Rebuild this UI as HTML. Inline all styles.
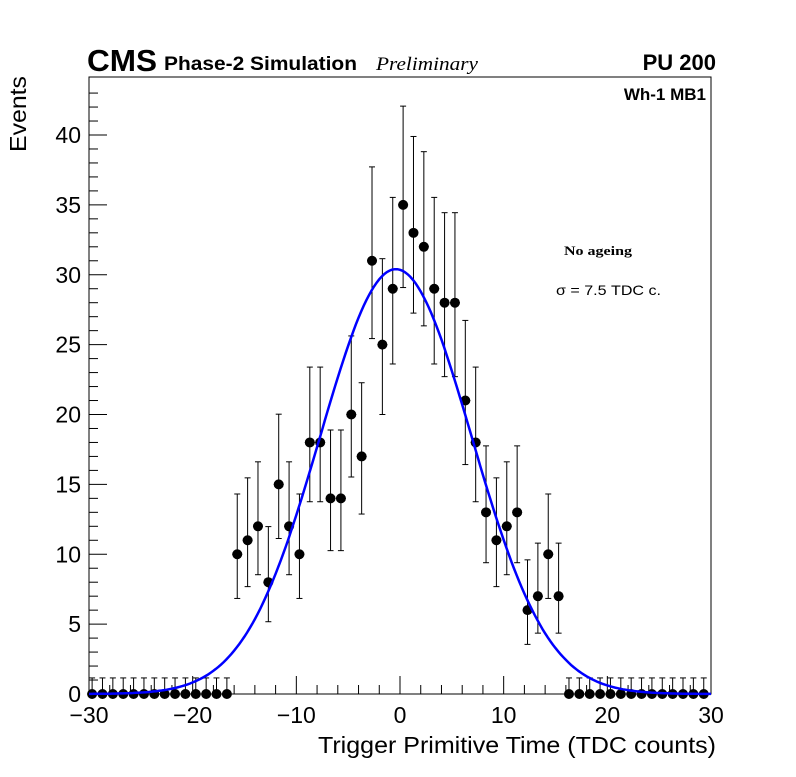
<!DOCTYPE html>
<html><head><meta charset="utf-8"><style>
body{margin:0;background:#fff;}
svg text{font-family:"Liberation Sans",sans-serif;}
</style></head><body>
<svg id="c" width="796" height="772" xmlns="http://www.w3.org/2000/svg">
<rect width="796" height="772" fill="#fff"/>
<rect x="89" y="77" width="622" height="617" fill="none" stroke="#000" stroke-width="1"/>
<text x="87" y="71" font-size="31" font-weight="bold" textLength="70" lengthAdjust="spacingAndGlyphs">CMS</text>
<text x="164" y="70" font-size="19" font-weight="bold" textLength="193" lengthAdjust="spacingAndGlyphs">Phase-2 Simulation</text>
<text x="376" y="70" font-size="19" font-style="italic" textLength="102" lengthAdjust="spacingAndGlyphs" style="font-family:'Liberation Serif',serif">Preliminary</text>
<text x="716" y="70" font-size="22" font-weight="bold" text-anchor="end">PU 200</text>
<text x="706" y="100" font-size="17" font-weight="bold" text-anchor="end">Wh-1 MB1</text>
<text x="564" y="255" font-size="13" font-weight="bold" textLength="68" lengthAdjust="spacingAndGlyphs" style="font-family:'Liberation Serif',serif">No ageing</text>
<text x="556" y="295" font-size="14" textLength="105" lengthAdjust="spacingAndGlyphs">σ = 7.5 TDC c.</text>
<text x="318" y="753" font-size="23" textLength="398" lengthAdjust="spacingAndGlyphs">Trigger Primitive Time (TDC counts)</text>
<text transform="translate(26,152) rotate(-90)" font-size="23" textLength="76" lengthAdjust="spacingAndGlyphs">Events</text>
<g id="axes"></g><g id="marks"></g>
</svg>
<script>
const binCenters=[];for(let i=0;i<60;i++)binCenters.push(-29.7+i);
const counts=[0,0,0,0,0,0,0,0,0,0,0,0,0,0,10,11,12,8,15,12,10,18,18,14,14,20,17,31,25,29,35,33,32,29,28,28,21,18,13,11,12,13,6,7,10,7,0,0,0,0,0,0,0,0,0,0,0,0,0,0];
const xTicks=[-30,-20,-10,0,10,20,30];
const yTicks=[0,5,10,15,20,25,30,35,40];
const fitMean=-0.4, fitSigma=7.3, fitAmp=30.4;
const X=v=>89+(v+30)*622/60, Y=v=>694-v*13.975;
const NS='http://www.w3.org/2000/svg';
const ax=document.getElementById('axes'), mk=document.getElementById('marks');
function el(t,a,p){const e=document.createElementNS(NS,t);for(const k in a)e.setAttribute(k,a[k]);p.appendChild(e);return e;}
for(let v=-30;v<=30;v+=2){const maj=v%10===0;const e=el('line',{x1:X(v),x2:X(v),y1:694,y2:694-(maj?18:9),stroke:'#000'},ax);

}
xTicks.forEach(v=>{const t=el('text',{x:X(v),y:723,'font-size':23,'text-anchor':'middle'},ax);t.textContent=(v<0?'\u2212':'')+Math.abs(v);

});
for(let v=0;v<=43;v++){const maj=v%5===0;const e=el('line',{x1:89,x2:89+(maj?18:9),y1:Y(v),y2:Y(v),stroke:'#000'},ax);

}
yTicks.forEach(v=>{const t=el('text',{x:81,y:Y(v)+8,'font-size':23,'text-anchor':'end'},ax);t.textContent=v;

});
binCenters.forEach((c,i)=>{const n=counts[i];const up=n+Math.sqrt(n)+1.15, lo=Math.max(0,n-Math.sqrt(n));
const g=el('g',{},mk);


const cx=X(c),cy=Y(n);
el('line',{x1:cx,x2:cx,y1:Y(up),y2:Y(lo),stroke:'#000'},g);
el('line',{x1:cx-3,x2:cx+3,y1:Y(up),y2:Y(up),stroke:'#000'},g);
if(n>0)el('line',{x1:cx-3,x2:cx+3,y1:Y(lo),y2:Y(lo),stroke:'#000'},g);
el('line',{x1:cx-5,x2:cx+5,y1:cy,y2:cy,stroke:'#000'},g);
el('circle',{cx:cx,cy:cy,r:5,fill:'#000'},g);});
let d='';for(let v=-30;v<=30;v+=0.25){const f=fitAmp*Math.exp(-((v-fitMean)**2)/(2*fitSigma*fitSigma));d+=(d?'L':'M')+X(v).toFixed(1)+','+Y(f).toFixed(1);}
const p=el('path',{d:d,fill:'none',stroke:'#0000ff','stroke-width':2.5},mk);


</script>
</body></html>
